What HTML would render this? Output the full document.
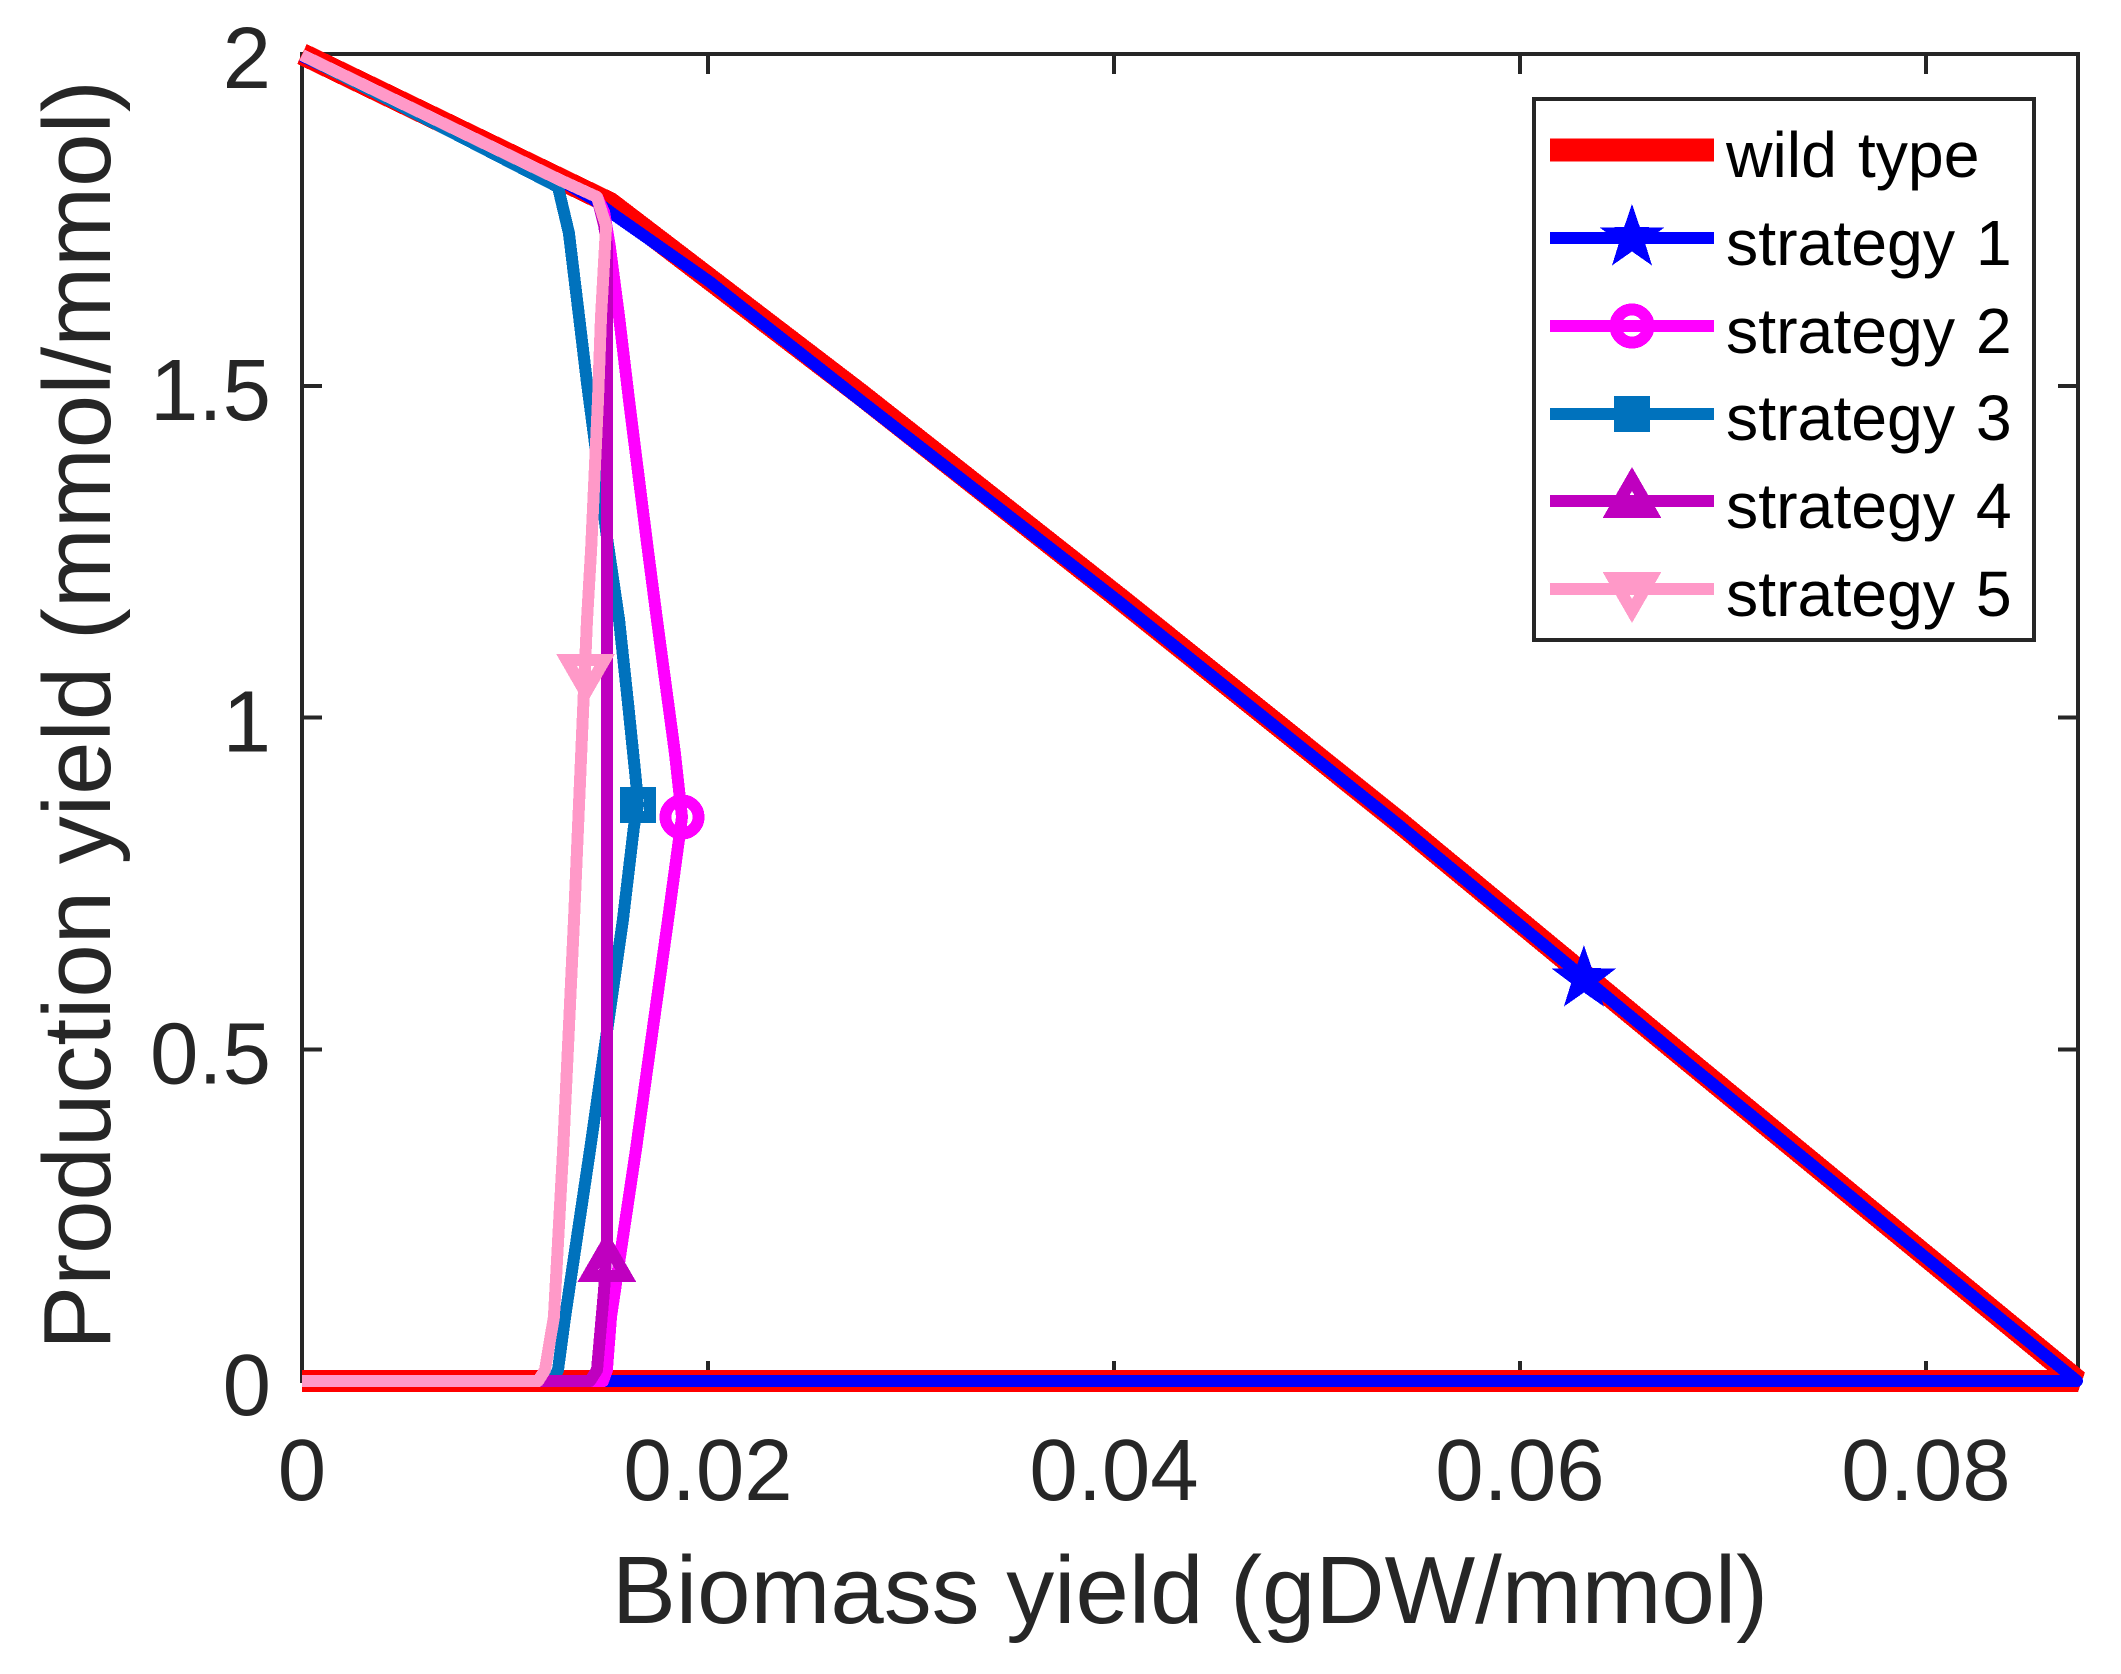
<!DOCTYPE html>
<html lang="en">
<head>
<meta charset="utf-8">
<title>Production yield vs biomass yield</title>
<style>
  html, body { margin: 0; padding: 0; background: #ffffff; }
  svg { display: block; }
  text { font-family: "Liberation Sans", Arial, sans-serif; }
  polyline, polygon, circle, rect, line { shape-rendering: crispEdges; }
</style>
</head>
<body>
<svg id="chart" xmlns="http://www.w3.org/2000/svg" width="2121" height="1674" viewBox="0 0 2121 1674">
  <rect x="0" y="0" width="2121" height="1674" fill="#ffffff"/>
  <g id="axes-layer"></g>
  <g id="series-layer"></g>
  <text x="1190" y="1623" font-size="95.9" fill="#262626" text-anchor="middle">Biomass yield (gDW/mmol)</text>
  <text transform="translate(110 715) rotate(-90)" font-size="96" fill="#262626" text-anchor="middle">Production yield (mmol/mmol)</text>
  <g id="legend-layer">
    <rect x="1534" y="99" width="500" height="541" fill="#ffffff" stroke="#262626" stroke-width="4"/>
  </g>
</svg>
<script>
// Axis ticks
const xTicks = [0, 0.02, 0.04, 0.06, 0.08];
const xTickLabels = ['0', '0.02', '0.04', '0.06', '0.08'];
const yTicks = [0, 0.5, 1, 1.5, 2];
const yTickLabels = ['0', '0.5', '1', '1.5', '2'];

// Series values (biomass yield x, production yield y)
const wildX = [0, 0.08749, 0.06788, 0.05409, 0.04037, 0.02749, 0.01517, 0];
const wildY = [0, 0, 0.4928, 0.841, 1.1771, 1.4876, 1.7754, 2];
const s1X = [0, 0.01271, 0.01433, 0.01532, 0.0201, 0.02749, 0.04015, 0.05409, 0.06788, 0.08744, 0];
const s1Y = [1.997, 1.8101, 1.7815, 1.7589, 1.6564, 1.4785, 1.1771, 0.8365, 0.4883, 0, 0];
const s2X = [0, 0.01271, 0.01453, 0.01488, 0.01517, 0.01562, 0.01611, 0.0164, 0.01704, 0.01749, 0.01837, 0.01872, 0.01803, 0.01645, 0.01522, 0.01502, 0.01483, 0];
const s2Y = [1.9985, 1.8101, 1.7845, 1.7619, 1.7091, 1.6036, 1.4785, 1.4077, 1.2524, 1.147, 0.9465, 0.85, 0.6948, 0.3482, 0.0965, 0.0166, 0, 0];
const s3X = [0, 0.01261, 0.01315, 0.01365, 0.01404, 0.01443, 0.01502, 0.01562, 0.01606, 0.01645, 0.01655, 0.01635, 0.01581, 0.01419, 0.01296, 0.01261, 0.01232, 0];
const s3Y = [1.9985, 1.7995, 1.7302, 1.6036, 1.5041, 1.4137, 1.272, 1.147, 1.0219, 0.9058, 0.8681, 0.835, 0.6948, 0.3482, 0.0965, 0.0166, 0, 0];
const s4X = [0, 0.01271, 0.01453, 0.01488, 0.01502, 0.01502, 0.01502, 0.01488, 0.01453, 0.01419, 0];
const s4Y = [1.9985, 1.8101, 1.7845, 1.7423, 1.7121, 0.8757, 0.2125, 0.1372, 0.0166, 0, 0];
const s5X = [0, 0.01271, 0.01453, 0.01498, 0.01473, 0.01458, 0.01424, 0.01404, 0.0134, 0.01286, 0.01241, 0.01197, 0.01163, 0];
const s5Y = [1.9985, 1.8101, 1.7845, 1.7408, 1.6036, 1.4785, 1.2524, 1.147, 0.6948, 0.3482, 0.0965, 0.0166, 0, 0];

// Marker positions along each series
const s1Marker = [0.06315, 0.6059];
const s2Marker = [0.01872, 0.85];
const s3Marker = [0.01655, 0.8681];
const s4Marker = [0.01502, 0.1748];
const s5Marker = [0.01397, 1.0701];

const SVGNS = 'http://www.w3.org/2000/svg';
const plot = { left: 302, right: 2078, top: 54, bottom: 1381 };
const xMax = 0.08749;
const yMax = 2;
const ink = '#262626';

function xScale(v) { return plot.left + (v / xMax) * (plot.right - plot.left); }
function yScale(v) { return plot.bottom - (v / yMax) * (plot.bottom - plot.top); }

function make(tag, attrs, parent) {
  const el = document.createElementNS(SVGNS, tag);
  for (const k in attrs) el.setAttribute(k, attrs[k]);
  parent.appendChild(el);
  return el;
}

const axesLayer = document.getElementById('axes-layer');
const seriesLayer = document.getElementById('series-layer');
const legendLayer = document.getElementById('legend-layer');

// Axes box
const box = make('rect', { x: plot.left, y: plot.top, width: plot.right - plot.left, height: plot.bottom - plot.top, fill: 'none', stroke: ink, 'stroke-width': 4 }, axesLayer);



// X ticks and labels
xTicks.forEach(function (t, i) {
  const px = xScale(t);
  if (t !== 0) {
    const bottomTick = make('line', { x1: px, x2: px, y1: plot.bottom, y2: plot.bottom - 20, stroke: ink, 'stroke-width': 4 }, axesLayer);
    
    
    const topTick = make('line', { x1: px, x2: px, y1: plot.top, y2: plot.top + 20, stroke: ink, 'stroke-width': 4 }, axesLayer);
    
    
  }
  const label = make('text', { x: px, y: 1500, 'font-size': 87, fill: ink, 'text-anchor': 'middle' }, axesLayer);
  
  
  label.textContent = xTickLabels[i];
});

// Y ticks and labels
yTicks.forEach(function (t, i) {
  const py = yScale(t);
  if (t !== 0 && t !== yMax) {
    const leftTick = make('line', { x1: plot.left, x2: plot.left + 20, y1: py, y2: py, stroke: ink, 'stroke-width': 4 }, axesLayer);
    
    
    const rightTick = make('line', { x1: plot.right, x2: plot.right - 20, y1: py, y2: py, stroke: ink, 'stroke-width': 4 }, axesLayer);
    
    
  }
  const label = make('text', { x: 271, y: py + 34, 'font-size': 87, fill: ink, 'text-anchor': 'end' }, axesLayer);
  
  
  label.textContent = yTickLabels[i];
});

function drawMarker(kind, cx, cy, color, parent) {
  let el;
  if (kind === 'star') {
    const pts = [];
    for (let k = 0; k < 10; k++) {
      const r = k % 2 === 0 ? 34 : 13.5;
      const a = -Math.PI / 2 + k * Math.PI / 5;
      pts.push((cx + r * Math.cos(a)).toFixed(1) + ',' + (cy + r * Math.sin(a)).toFixed(1));
    }
    el = make('polygon', { points: pts.join(' '), fill: color }, parent);
  } else if (kind === 'circle') {
    el = make('circle', { cx: cx, cy: cy, r: 16.5, fill: 'none', stroke: color, 'stroke-width': 12 }, parent);
  } else if (kind === 'square') {
    el = make('rect', { x: cx - 12, y: cy - 12, width: 24, height: 24, fill: 'none', stroke: color, 'stroke-width': 12 }, parent);
  } else {
    const dir = kind === 'triangle-up' ? 1 : -1;
    const pts = [
      cx + ',' + (cy - dir * 22),
      (cx + 19) + ',' + (cy + dir * 11),
      (cx - 19) + ',' + (cy + dir * 11)
    ];
    el = make('polygon', { points: pts.join(' '), fill: 'none', stroke: color, 'stroke-width': 12, 'stroke-linejoin': 'miter', 'stroke-miterlimit': 4 }, parent);
  }
  return el;
}

function drawLine(xs, ys, color, width, join, parent) {
  const pts = xs.map(function (x, i) { return xScale(x).toFixed(1) + ',' + yScale(ys[i]).toFixed(1); });
  return make('polyline', { points: pts.join(' '), fill: 'none', stroke: color, 'stroke-width': width, 'stroke-linejoin': join, 'stroke-linecap': 'butt' }, parent);
}

// Wild type
const wildLine = drawLine(wildX, wildY, '#ff0000', 22, 'bevel', seriesLayer);



// Strategy 1
const s1Line = drawLine(s1X, s1Y, '#0000ff', 12, 'round', seriesLayer);


const s1Mark = drawMarker('star', xScale(s1Marker[0]), yScale(s1Marker[1]), '#0000ff', seriesLayer);



// Strategy 2
const s2Line = drawLine(s2X, s2Y, '#ff00ff', 12, 'round', seriesLayer);


const s2Mark = drawMarker('circle', xScale(s2Marker[0]), yScale(s2Marker[1]), '#ff00ff', seriesLayer);



// Strategy 3
const s3Line = drawLine(s3X, s3Y, '#0072bd', 12, 'round', seriesLayer);


const s3Mark = drawMarker('square', xScale(s3Marker[0]), yScale(s3Marker[1]), '#0072bd', seriesLayer);



// Strategy 4
const s4Line = drawLine(s4X, s4Y, '#bf00bf', 12, 'round', seriesLayer);


const s4Mark = drawMarker('triangle-up', xScale(s4Marker[0]), yScale(s4Marker[1]), '#bf00bf', seriesLayer);



// Strategy 5
const s5Line = drawLine(s5X, s5Y, '#ff99c8', 12, 'round', seriesLayer);


const s5Mark = drawMarker('triangle-down', xScale(s5Marker[0]), yScale(s5Marker[1]), '#ff99c8', seriesLayer);



// Legend
function legendRow(rowY, color, width, text, baseline) {
  const swatch = make('line', { x1: 1550, x2: 1714, y1: rowY, y2: rowY, stroke: color, 'stroke-width': width }, legendLayer);
  
  
  const label = make('text', { x: 1726, y: baseline, 'font-size': 64.4, fill: '#000000', 'word-spacing': 3 }, legendLayer);
  
  
  label.textContent = text;
}
legendRow(150, '#ff0000', 23, 'wild type', 177);
legendRow(238, '#0000ff', 12, 'strategy 1', 265);
const legendStar = drawMarker('star', 1632, 238, '#0000ff', legendLayer);


legendRow(326, '#ff00ff', 12, 'strategy 2', 353);
const legendCircle = drawMarker('circle', 1632, 326, '#ff00ff', legendLayer);


legendRow(414, '#0072bd', 12, 'strategy 3', 440);
const legendSquare = drawMarker('square', 1632, 414, '#0072bd', legendLayer);


legendRow(501, '#bf00bf', 12, 'strategy 4', 528);
const legendUp = drawMarker('triangle-up', 1632, 501, '#bf00bf', legendLayer);


legendRow(589, '#ff99c8', 12, 'strategy 5', 616);
const legendDown = drawMarker('triangle-down', 1632, 589, '#ff99c8', legendLayer);


</script>
</body>
</html>
